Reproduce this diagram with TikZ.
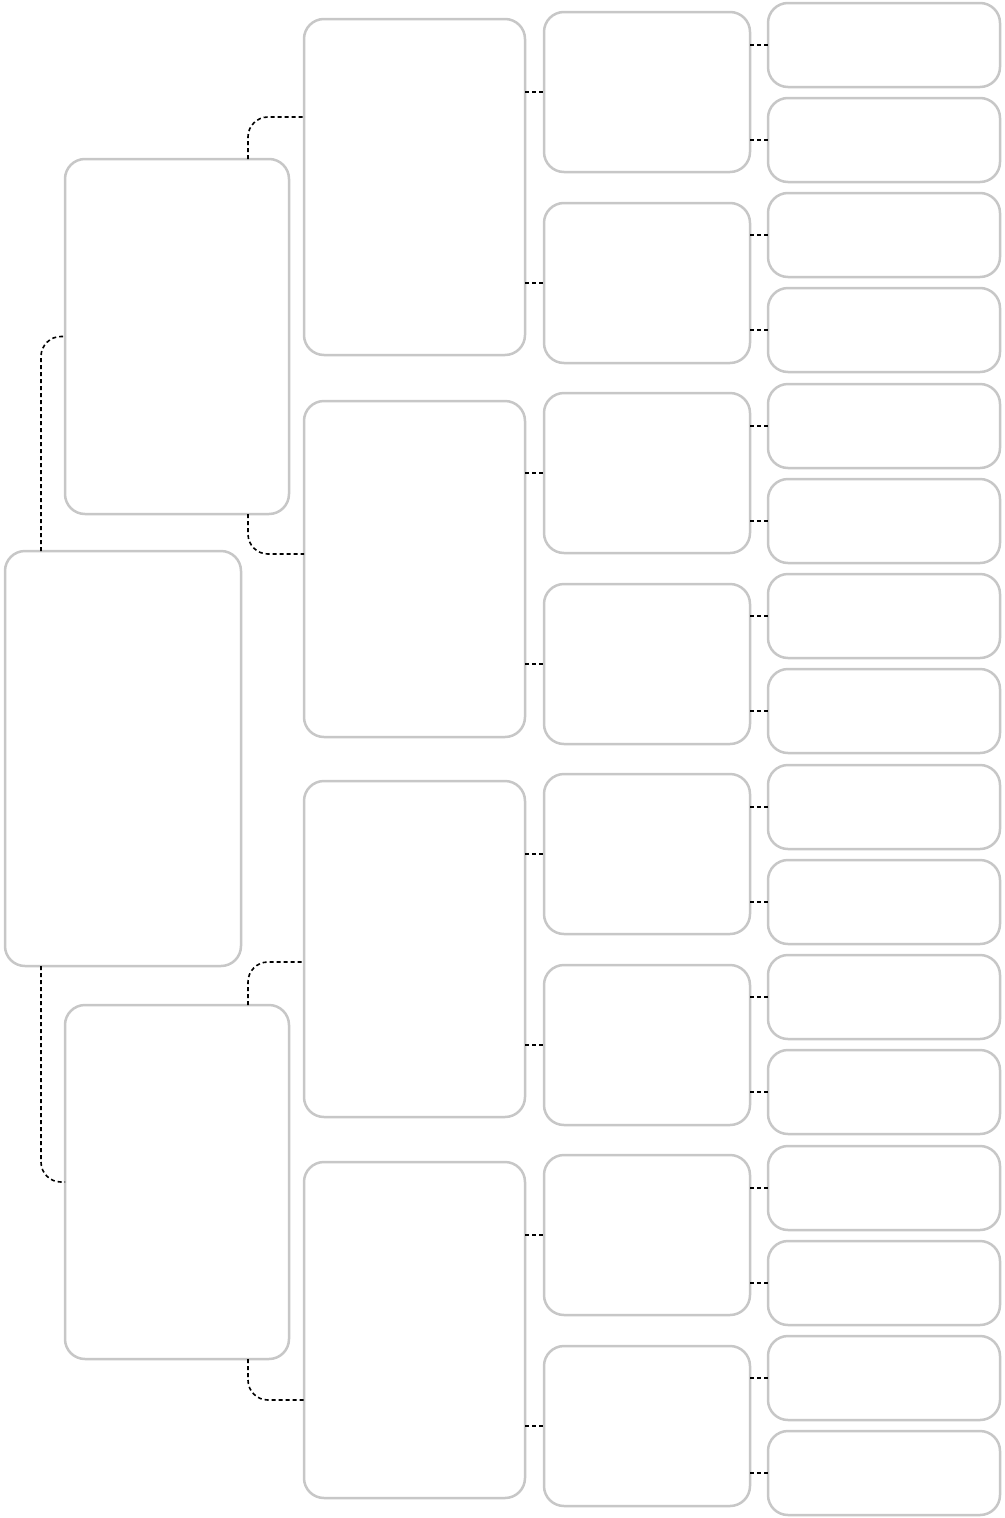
\documentclass[tikz,border=0pt]{standalone}
\usetikzlibrary{calc}
\begin{document}
\begin{tikzpicture}[x=1pt,y=-1pt,
  box/.style={draw=black!22,line width=2.5pt,rounded corners=20pt,fill=white,inner sep=0pt,outer sep=0pt},
  conn/.style={draw=black,line width=1.6pt,dash pattern=on 4pt off 3pt,rounded corners=20pt}]
\useasboundingbox (0,0) rectangle (1004,1518);
\newcommand\bx[5]{\node[box,minimum width={#4-#2},minimum height={#5-#3}] (#1) at ({(#2+#4)/2},{(#3+#5)/2}) {};}
% root and level 1
\bx{R}{5}{551}{241}{966}
\bx{A}{65}{159}{289}{514}
\bx{B}{65}{1005}{289}{1359}
% level 2
\bx{Ca}{304}{19}{525}{355}
\bx{Cb}{304}{401}{525}{737}
\bx{Cc}{304}{781}{525}{1117}
\bx{Cd}{304}{1162}{525}{1498}
% level 3
\bx{D1}{544}{12}{750}{172}
\bx{D2}{544}{203}{750}{363}
\bx{D3}{544}{393}{750}{553}
\bx{D4}{544}{584}{750}{744}
\bx{D5}{544}{774}{750}{934}
\bx{D6}{544}{965}{750}{1125}
\bx{D7}{544}{1155}{750}{1315}
\bx{D8}{544}{1346}{750}{1506}
% level 4
\bx{E1}{768}{3}{1000}{87}
\bx{E2}{768}{98}{1000}{182}
\bx{E3}{768}{193}{1000}{277}
\bx{E4}{768}{288}{1000}{372}
\bx{E5}{768}{384}{1000}{468}
\bx{E6}{768}{479}{1000}{563}
\bx{E7}{768}{574}{1000}{658}
\bx{E8}{768}{669}{1000}{753}
\bx{E9}{768}{765}{1000}{849}
\bx{E10}{768}{860}{1000}{944}
\bx{E11}{768}{955}{1000}{1039}
\bx{E12}{768}{1050}{1000}{1134}
\bx{E13}{768}{1146}{1000}{1230}
\bx{E14}{768}{1241}{1000}{1325}
\bx{E15}{768}{1336}{1000}{1420}
\bx{E16}{768}{1431}{1000}{1515}
% connectors root -> level 1
\draw[conn] ([xshift=36pt]R.north west) |- (A.west);
\draw[conn] ([xshift=36pt]R.south west) |- (B.west);
% level 1 -> level 2
\coordinate (ca) at ([yshift=-98pt]Ca.north west);
\coordinate (cb) at ([yshift=-153pt]Cb.north west);
\coordinate (cc) at ([yshift=-181pt]Cc.north west);
\coordinate (cd) at ([yshift=-238pt]Cd.north west);
\draw[conn] ([xshift=-41pt]A.north east) |- (ca);
\draw[conn] ([xshift=-41pt]A.south east) |- (cb);
\draw[conn] ([xshift=-41pt]B.north east) |- (cc);
\draw[conn] ([xshift=-41pt]B.south east) |- (cd);
% level 2 -> level 3
\foreach \p/\c in {Ca/D1,Ca/D2,Cb/D3,Cb/D4,Cc/D5,Cc/D6,Cd/D7,Cd/D8}
  \draw[conn] (\c.west -| \p.east) -- (\c.west);
% level 3 -> level 4
\foreach \p/\c in {D1/E1,D1/E2,D2/E3,D2/E4,D3/E5,D3/E6,D4/E7,D4/E8,D5/E9,D5/E10,D6/E11,D6/E12,D7/E13,D7/E14,D8/E15,D8/E16}
  \draw[conn] (\c.west -| \p.east) -- (\c.west);
\end{tikzpicture}
\end{document}
